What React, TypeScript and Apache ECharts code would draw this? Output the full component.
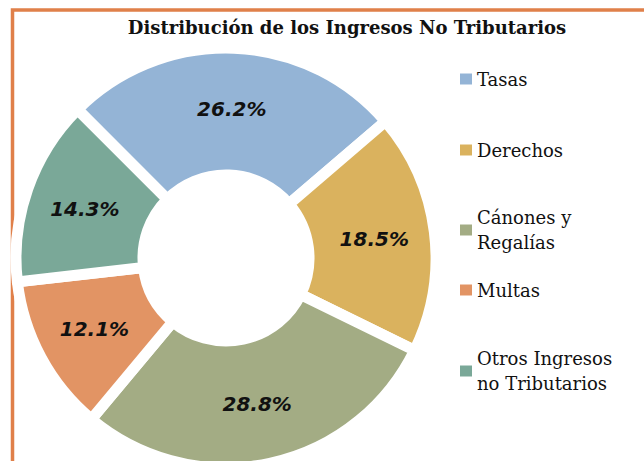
import React, { useEffect, useRef } from "react";
import * as echarts from "echarts";

const titleText = "Distribución de los Ingresos No Tributarios";
const categories = ["Tasas", "Derechos", "Cánones y Regalías", "Multas", "Otros Ingresos no Tributarios"];
const legendLabels = ["Tasas", "Derechos", "Cánones y\nRegalías", "Multas", "Otros Ingresos\nno Tributarios"];
const shares = [26.2, 18.5, 28.8, 12.1, 14.3];
const colors = ["#94B4D6", "#DAB25E", "#A3AC84", "#E29464", "#7AA898"];
const legendFirstLineY = [79, 150, 218, 290, 359];

export default function App() {
  const ref = useRef<HTMLDivElement>(null);
  useEffect(() => {
    if (!ref.current) return;
    const chart = echarts.init(ref.current, null, { renderer: "svg" });
    const LH = 25;
    const legends = categories.map((name, i) => {
      const twoLine = legendLabels[i].includes("\n");
      return {
        data: [name],
        orient: "vertical",
        left: 460,
        padding: 0,
        top: twoLine ? legendFirstLineY[i] - LH * 1.5 + 12 : legendFirstLineY[i] - LH / 2,
        itemWidth: 12,
        itemHeight: 11,
        icon: "rect",
        selectedMode: false,
        itemStyle: { borderWidth: 0 },
        formatter: () => legendLabels[i],
        textStyle: {
          fontFamily: "DejaVu Serif",
          fontSize: 18,
          color: "#111111",
          lineHeight: LH,
          padding: twoLine ? [LH, 0, 0, 0] : 0,
        },
      };
    });
    chart.setOption({
      animation: false,
      backgroundColor: "#ffffff",
      color: colors,
      title: {
        text: titleText,
        left: 342,
        top: 13,
        textAlign: "center",
        textStyle: {
          fontFamily: "DejaVu Serif",
          fontWeight: "bold",
          fontSize: 18,
          color: "#111111",
        },
      },
      legend: legends,
      graphic: [
        {
          type: "rect",
          shape: { x: 12.5, y: 10, width: 700, height: 500 },
          style: { fill: "none", stroke: "#E0804A", lineWidth: 3.5 },
          silent: true,
        },
      ],
      series: [
        {
          type: "pie",
          center: [226, 258],
          radius: [83, 210],
          startAngle: 135,
          clockwise: true,
          avoidLabelOverlap: false,
          itemStyle: { borderColor: "#ffffff", borderWidth: 11 },
          label: {
            show: true,
            position: "inside",
            formatter: (p: any) => `${Number(p.value).toFixed(1)}%`,
            fontFamily: "DejaVu Sans",
            fontStyle: "italic",
            fontWeight: "bold",
            fontSize: 20,
            color: "#111111",
          },
          labelLine: { show: false },
          emphasis: { disabled: true },
          data: categories.map((name, i) => ({ name, value: shares[i] })),
        },
      ],
    });
    return () => chart.dispose();
  }, []);
  return (
    <div
      ref={ref}
      style={{ position: "fixed", left: 0, top: 0, width: 644, height: 461 }}
    />
  );
}
